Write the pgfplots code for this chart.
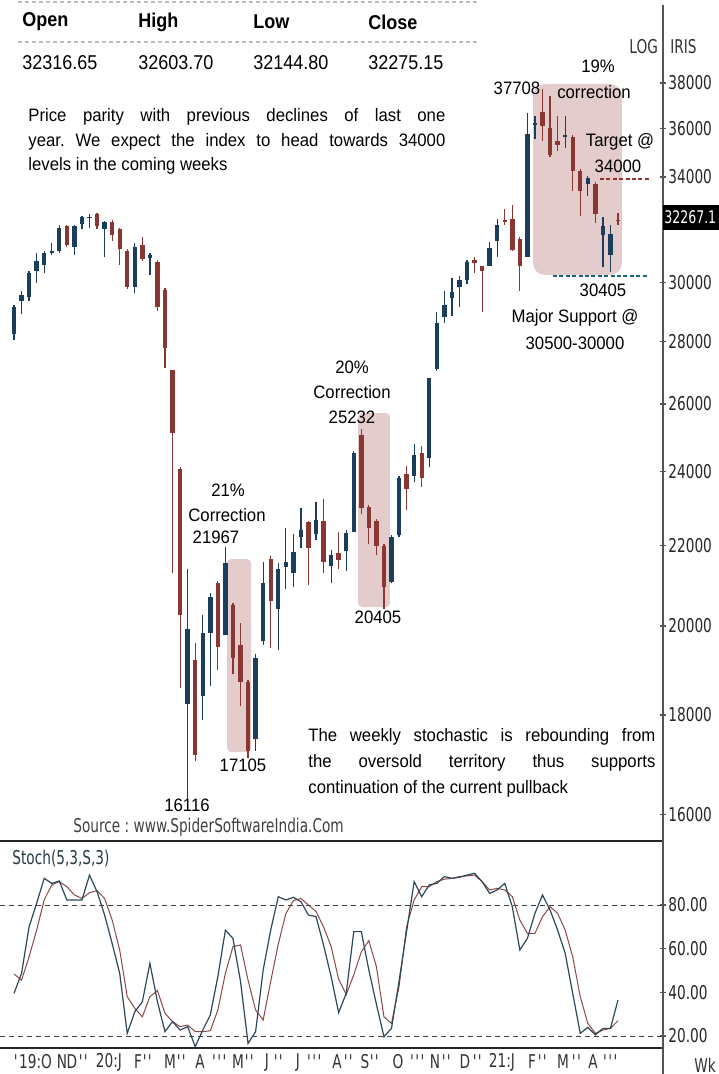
\documentclass[border=0pt]{standalone}
\usepackage{pgfplots}
\pgfplotsset{compat=1.18}
\usepackage{fontspec}
\setmainfont{Liberation Sans}
\newfontfamily\annfont[FakeStretch=0.93]{Liberation Sans}
\newfontfamily\hdfont[FakeStretch=0.9]{Liberation Sans}
\newfontfamily\axfont[FakeStretch=0.72]{DejaVu Sans}
\newcommand{\ann}{\annfont\fontsize{9}{11}\selectfont}
\newcommand{\axf}{\axfont\fontsize{9.5}{11}\selectfont}
\newcommand{\q}{\textquotesingle}
\definecolor{upc}{RGB}{27,62,92}
\definecolor{dnc}{RGB}{138,55,52}
\definecolor{boxc}{RGB}{229,204,204}
\definecolor{axc}{RGB}{85,85,85}
\definecolor{kc}{RGB}{45,72,88}
\definecolor{dc}{RGB}{140,72,72}
\frenchspacing
\begin{document}
\begin{tikzpicture}
\useasboundingbox (0,0) rectangle (359pt,-537pt);
\begin{scope}[x=0.5pt,y=-0.5pt]
\fill[boxc,rounded corners=2pt] (227,559) rectangle (251,752);
\fill[boxc,rounded corners=2pt] (358,413) rectangle (390,607);
\fill[boxc,rounded corners=6pt] (533,84) rectangle (622,275);
\end{scope}

\begin{axis}[
 at={(0pt,-4pt)}, anchor=north west,
 scale only axis, width=331.5pt, height=416.5pt,
 xmin=-0.854, xmax=86.96,
 ymode=log, ymin=15513, ymax=41523,
 axis x line=none, axis y line*=right,
 axis line style={draw=none},
 ytick={16000,18000,20000,22000,24000,26000,28000,30000,34000,36000,38000},
 yticklabels={16000,18000,20000,22000,24000,26000,28000,30000,34000,36000,38000},
 tick align=center, major tick length=3pt,
 every tick/.style={axc, line width=0.6pt},
 yticklabel style={font=\axf, text=black!85, inner sep=1pt},
 unbounded coords=jump,
 clip=false,
]
% up candles: wicks (low to high)
\addplot[upc, line width=0.6pt] coordinates {
(1,28038)(1,29244)(1,nan) (2,28904)(2,29723)(2,nan) (3,29378)(3,30427)(3,nan)
(4,30002)(4,31076)(4,nan) (5,30357)(5,31144)(5,nan) (6,31002)(6,31438)(6,nan)
(7,31076)(7,32136)(7,nan) (9,31002)(9,32136)(9,nan) (10,31957)(10,32484)(10,nan)
(11,32030)(11,32530)(11,nan) (13,30929)(13,32287)(13,nan) (17,29653)(17,31438)(17,nan)
(19,30285)(19,31076)(19,nan) (24,16116)(24,21382)(24,nan) (26,17904)(26,20263)(26,nan)
(27,18630)(27,20792)(27,nan) (29,19797)(29,21967)(29,nan) (33,17247)(33,19339)(33,nan)
(34,19566)(34,21582)(34,nan) (36,19430)(36,21532)(36,nan) (37,20887)(37,22457)(37,nan)
(38,20937)(38,22302)(38,nan) (39,21938)(39,22989)(39,nan) (41,22146)(41,23149)(41,nan)
(43,21029)(43,21891)(43,nan) (45,21341)(45,22404)(45,nan) (46,22356)(46,24585)(46,nan)
(51,21029)(51,22262)(51,nan) (52,22217)(52,23870)(52,nan) (54,23717)(54,24793)(54,nan)
(56,24122)(56,26807)(56,nan) (57,27032)(57,28984)(57,nan) (58,28616)(58,29727)(58,nan)
(59,28863)(59,30170)(59,nan) (60,29168)(60,30235)(60,nan) (61,29979)(61,30811)(61,nan)
(64,30594)(64,31469)(64,nan) (65,30943)(65,32345)(65,nan) (69,30943)(69,36678)(69,nan)
(70,35570)(70,36559)(70,nan) (74,35194)(74,36559)(74,nan) (77,33245)(77,34028)(77,nan)
(79,30554)(79,32414)(79,nan) (80,30405)(80,32144)
};
% up candles: bodies (open to close)
\addplot[upc, line width=2.2pt] coordinates {
(1,28236)(1,29175)(1,nan) (2,29378)(2,29585)(2,nan) (3,29518)(3,30357)(3,nan)
(4,30427)(4,30782)(4,nan) (5,30642)(5,31076)(5,nan) (6,31076)(6,31144)(6,nan)
(7,31144)(7,32030)(7,nan) (9,31293)(9,32075)(9,nan) (10,32182)(10,32438)(10,nan)
(11,32376)(11,32438)(11,nan) (13,31957)(13,32226)(13,nan) (17,29865)(17,31293)(17,nan)
(19,30899)(19,31002)(19,nan) (24,18242)(24,19935)(24,nan) (26,18413)(26,19842)(26,nan)
(27,19842)(27,20694)(27,nan) (29,19797)(29,21532)(29,nan) (33,17490)(33,19250)(33,nan)
(34,19658)(34,21037)(34,nan) (36,20407)(36,21382)(36,nan) (37,21433)(37,21582)(37,nan)
(38,21282)(38,21836)(38,nan) (39,22217)(39,22404)(39,nan) (41,22302)(41,22667)(41,nan)
(43,21479)(43,21752)(43,nan) (45,21844)(45,22310)(45,nan) (46,22356)(46,24533)(46,nan)
(51,21073)(51,22217)(51,nan) (52,22262)(52,23819)(52,nan) (54,23870)(54,24481)(54,nan)
(56,24377)(56,26807)(56,nan) (57,27090)(57,28616)(57,nan) (58,28801)(58,29230)(58,nan)
(59,29476)(59,29663)(59,nan) (60,29855)(60,30106)(60,nan) (61,30106)(61,30749)(61,nan)
(64,30620)(64,31270)(64,nan) (65,31537)(65,32144)(65,nan) (69,30943)(69,35794)(69,nan)
(70,36177)(70,36247)(70,nan) (74,35646)(74,35718)(74,nan) (77,33740)(77,33955)(77,nan)
(79,31736)(79,32075)(79,nan) (80,31010)(80,31804)
};
% down candles: wicks
\addplot[dnc, line width=0.6pt] coordinates {
(8,31293)(8,32136)(8,nan) (12,31988)(12,32589)(12,nan) (14,31541)(14,32334)(14,nan)
(15,30642)(15,32030)(15,nan) (16,29794)(16,31218)(16,nan) (18,30782)(18,31661)(18,nan)
(20,29036)(20,30811)(20,nan) (21,27136)(21,29823)(21,nan) (22,21282)(22,27071)(22,nan)
(23,18586)(23,24145)(23,nan) (25,17047)(25,19612)(25,nan) (28,18981)(28,21083)(28,nan)
(30,18894)(30,20550)(30,nan) (31,18199)(31,20073)(31,nan) (32,17105)(32,18760)(32,nan)
(35,19476)(35,21734)(35,nan) (40,20987)(40,22635)(40,nan) (42,21296)(42,23224)(42,nan)
(44,21387)(44,22356)(44,nan) (47,22835)(47,25232)(47,nan) (48,22029)(48,23077)(48,nan)
(49,21752)(49,22689)(49,nan) (50,20405)(50,22029)(50,nan) (53,22929)(53,24174)(53,nan)
(55,23569)(55,24740)(55,nan) (62,30358)(62,30943)(62,nan) (63,28984)(63,30620)(63,nan)
(66,32144)(66,32757)(66,nan) (67,31140)(67,32897)(67,nan) (68,29727)(68,31672)(68,nan)
(71,35493)(71,37708)(71,nan) (72,34826)(72,37416)(72,nan) (73,35047)(73,36559)(73,nan)
(75,33457)(75,35718)(75,nan) (76,32484)(76,34314)(76,nan) (78,32207)(78,33810)(78,nan)
(81,32144.80)(81,32603.70)
};
% down candles: bodies
\addplot[dnc, line width=2.2pt] coordinates {
(8,32075)(8,31367)(8,nan) (12,32530)(12,32106)(12,nan) (14,32257)(14,31732)(14,nan)
(15,31957)(15,31218)(15,nan) (16,31144)(16,29865)(16,nan) (18,31367)(18,30855)(18,nan)
(20,30741)(20,29175)(20,nan) (21,29766)(21,27778)(21,nan) (22,27071)(22,25126)(22,nan)
(23,24088)(23,20263)(23,nan) (25,19204)(25,17167)(25,nan) (28,21037)(28,19520)(28,nan)
(30,20502)(30,19250)(30,nan) (31,19566)(31,18715)(31,nan) (32,18715)(32,17247)(32,nan)
(35,21634)(35,20598)(35,nan) (40,22613)(40,21938)(40,nan) (42,22640)(42,21569)(42,nan)
(44,21799)(44,21613)(44,nan) (47,25055)(47,22978)(47,nan) (48,23027)(48,22452)(48,nan)
(49,22640)(49,21982)(49,nan) (50,21982)(50,20942)(50,nan) (53,23921)(53,23519)(53,nan)
(55,24533)(55,23819)(55,nan) (62,30811)(62,30719)(62,nan) (63,30620)(63,30424)(63,nan)
(66,32318)(66,32237)(66,nan) (67,32345)(67,31207)(67,nan) (68,31605)(68,30620)(68,nan)
(71,36713)(71,36100)(71,nan) (72,36022)(72,34900)(72,nan) (73,35464)(73,35315)(73,nan)
(75,35646)(75,34241)(75,nan) (76,34241)(76,33457)(76,nan) (78,33740)(78,32553)(78,nan)
(81,32316.65)(81,32275.15)
};
\end{axis}

\begin{axis}[
 at={(0pt,-420.5pt)}, anchor=north west,
 scale only axis, width=331.5pt, height=103.5pt,
 xmin=-0.854, xmax=86.96, ymin=14.5, ymax=109.3,
 axis x line=none, axis y line*=right,
 axis line style={draw=none},
 ytick={20,40,60,80}, yticklabels={20.00,40.00,60.00,80.00},
 tick align=center, major tick length=3pt,
 every tick/.style={axc, line width=0.6pt},
 yticklabel style={font=\axf, text=black!85, inner sep=1pt},
 clip=false,
]
\addplot[dc, line width=0.5pt] coordinates {
(1,48.4)(2,45.6)(3,56.3)(4,68.5)(5,82.3)(6,89.2)(7,90.7)(8,88.4)(9,84.6)(10,83)
(11,85.6)(12,86.6)(13,83)(14,73.1)(15,59.4)(16,38)(17,32.7)(18,28.8)(19,38)(20,40.8)
(21,30.4)(22,26.6)(23,24.3)(24,25)(25,22)(26,22)(27,22.4)(28,31.9)(29,48.7)(30,60.9)
(31,61.7)(32,45.6)(33,31.9)(34,27.3)(35,45)(36,62)(37,76)(38,82)(39,83)(40,80)
(41,77)(42,70)(43,61)(44,46)(45,39)(46,48)(47,58.5)(48,63.7)(49,51.8)(50,28.8)
(51,25.8)(52,42.6)(53,70.1)(54,82.3)(55,88.4)(56,88.4)(57,90.7)(58,91.8)(59,92.2)(60,93)
(61,93.3)(62,93.7)(63,90.7)(64,86.9)(65,87.6)(66,86.9)(67,83.8)(68,73.1)(69,67)(70,67)
(71,74.7)(72,79.2)(73,76.2)(74,68.5)(75,56.3)(76,38)(77,25.8)(78,21.2)(79,22.7)(80,23.5)
(81,27)
};
\addplot[kc, line width=0.6pt] coordinates {
(1,39.5)(2,48.7)(3,70)(4,80.8)(5,92.2)(6,89.9)(7,91)(8,82.3)(9,82.3)(10,82.3)
(11,93.7)(12,86.1)(13,75.4)(14,62.4)(15,48.7)(16,21.2)(17,31.1)(18,35.7)(19,53.3)(20,35.7)
(21,22)(22,26.6)(23,22.7)(24,24.3)(25,15.1)(26,22.7)(27,29.6)(28,47.2)(29,68.5)(30,64.7)
(31,45)(32,16.6)(33,22)(34,50.2)(35,68.5)(36,83.8)(37,82.3)(38,83.5)(39,81.5)(40,75.4)
(41,74.7)(42,61.7)(43,47.2)(44,30.7)(45,39.5)(46,67.8)(47,67.8)(48,50.2)(49,34.6)(50,19.7)
(51,23.5)(52,45.2)(53,67.9)(54,90.7)(55,83.8)(56,89.2)(57,89.9)(58,93)(59,92.2)(60,92.7)
(61,93.7)(62,94.5)(63,90.7)(64,85.3)(65,86.9)(66,89.9)(67,79.2)(68,59.4)(69,64.7)(70,76.2)
(71,84.6)(72,77.7)(73,68.5)(74,57.9)(75,39.5)(76,21.2)(77,24)(78,20.5)(79,23.5)(80,23.5)
(81,36.5)
};
\end{axis}

\begin{scope}[x=0.5pt,y=-0.5pt]
% frame lines
\draw[black!85, line width=1pt] (0,841) -- (663,841);
\draw[black!85, line width=1pt] (0,1048) -- (663,1048);
\draw[axc, line width=1pt] (663,5) -- (663,1074);
\draw[black!75, line width=0.5pt, dash pattern=on 2.5pt off 2pt] (0,905) -- (663,905);
\draw[black!75, line width=0.5pt, dash pattern=on 2.5pt off 2pt] (0,1036) -- (663,1036);
% target / support lines
\draw[dnc!90!red, line width=0.6pt, dash pattern=on 2pt off 1.2pt] (600,179) -- (650,179);
\draw[upc!80!cyan, line width=0.6pt, dash pattern=on 2pt off 1.2pt] (553,276) -- (648,276);
% header table
\draw[black!25, line width=0.8pt, dash pattern=on 2pt off 1.5pt] (18,2) -- (480,2);
\draw[black!25, line width=0.8pt, dash pattern=on 2pt off 1.5pt] (18,42) -- (480,42);
\begin{scope}[every node/.style={anchor=west, inner sep=0pt}]
\node[font=\hdfont\bfseries\fontsize{10}{12}\selectfont] at (22,22) {Open};
\node[font=\hdfont\bfseries\fontsize{10}{12}\selectfont] at (138,22) {High};
\node[font=\hdfont\bfseries\fontsize{10}{12}\selectfont] at (253,22) {Low};
\node[font=\hdfont\bfseries\fontsize{10}{12}\selectfont] at (368,22) {Close};
\node[font=\hdfont\fontsize{10}{12}\selectfont] at (22,63) {32316.65};
\node[font=\hdfont\fontsize{10}{12}\selectfont] at (138,63) {32603.70};
\node[font=\hdfont\fontsize{10}{12}\selectfont] at (253,63) {32144.80};
\node[font=\hdfont\fontsize{10}{12}\selectfont] at (368,63) {32275.15};
% paragraph 1
\node[font=\ann] at (28,117) {\makebox[208.5pt][s]{Price parity with previous declines of last one}};
\node[font=\ann] at (28,142) {\makebox[208.5pt][s]{year. We expect the index to head towards 34000}};
\node[font=\ann] at (28,166) {levels in the coming weeks};
% paragraph 2
\node[font=\ann] at (308,737) {\makebox[173.5pt][s]{The weekly stochastic is rebounding from}};
\node[font=\ann] at (308,763) {\makebox[173.5pt][s]{the oversold territory thus supports}};
\node[font=\ann] at (308,789) {continuation of the current pullback};
% axis texts
\node[font=\axf, text=black!75] at (73,827) {Source : www.SpiderSoftwareIndia.Com};
\node[font=\axf, text=kc!80!black] at (12,859) {Stoch(5,3,S,3)};
\node[font=\axf, text=black!80] at (629,47) {LOG};
\node[font=\axf, text=black!80] at (670,47) {IRIS};
\node[font=\axf, text=black!80] at (694,1065) {Wk};
\end{scope}
\fill[black] (663,205) rectangle (720,230);
\node[font=\axfont\fontsize{8.7}{10}\selectfont, text=white, anchor=west, inner sep=0pt] at (664,217.5) {32267.1};
% annotations (centered)
\begin{scope}[every node/.style={font=\ann, inner sep=0pt}]
\node at (598,66) {19\%};
\node at (594,92) {correction};
\node at (517,88) {37708};
\node at (620,142) {Target @};
\node at (618,166) {34000};
\node at (603,290) {30405};
\node at (575,318) {Major Support @};
\node at (575,343) {30500-30000};
\node at (352,367) {20\%};
\node at (352,392) {Correction};
\node at (352,417) {25232};
\node at (228,490) {21\%};
\node at (227,515) {Correction};
\node at (216,537) {21967};
\node at (378,617) {20405};
\node at (243,765) {17105};
\node at (187,805) {16116};
\end{scope}
% stochastic time axis labels
\begin{scope}[every node/.style={font=\axf, text=black!80, inner sep=0pt}]
\node at (33,1062) {\q19:O};
\node at (62,1062) {N};
\node at (72,1062) {D};
\node at (84,1062) {\q\q};
\node at (109,1062) {20:J};
\node at (138,1062) {F};
\node at (148,1062) {\q\q};
\node at (170,1062) {M};
\node at (182,1062) {\q\q};
\node at (200,1062) {A};
\node at (220,1062) {\q\q\q};
\node at (238,1062) {M};
\node at (250,1062) {\q\q};
\node at (267,1062) {J};
\node at (279,1062) {\q\q};
\node at (298,1062) {J};
\node at (315,1062) {\q\q\q};
\node at (337,1062) {A};
\node at (349,1062) {\q\q};
\node at (365,1062) {S};
\node at (375,1062) {\q\q};
\node at (398,1062) {O};
\node at (418,1062) {\q\q\q};
\node at (435,1062) {N};
\node at (447,1062) {\q\q};
\node at (465,1062) {D};
\node at (478,1062) {\q\q};
\node at (502,1062) {21:J};
\node at (532,1062) {F};
\node at (543,1062) {\q\q};
\node at (563,1062) {M};
\node at (577,1062) {\q\q};
\node at (593,1062) {A};
\node at (611,1062) {\q\q\q};
\end{scope}
\end{scope}
\end{tikzpicture}
\end{document}
